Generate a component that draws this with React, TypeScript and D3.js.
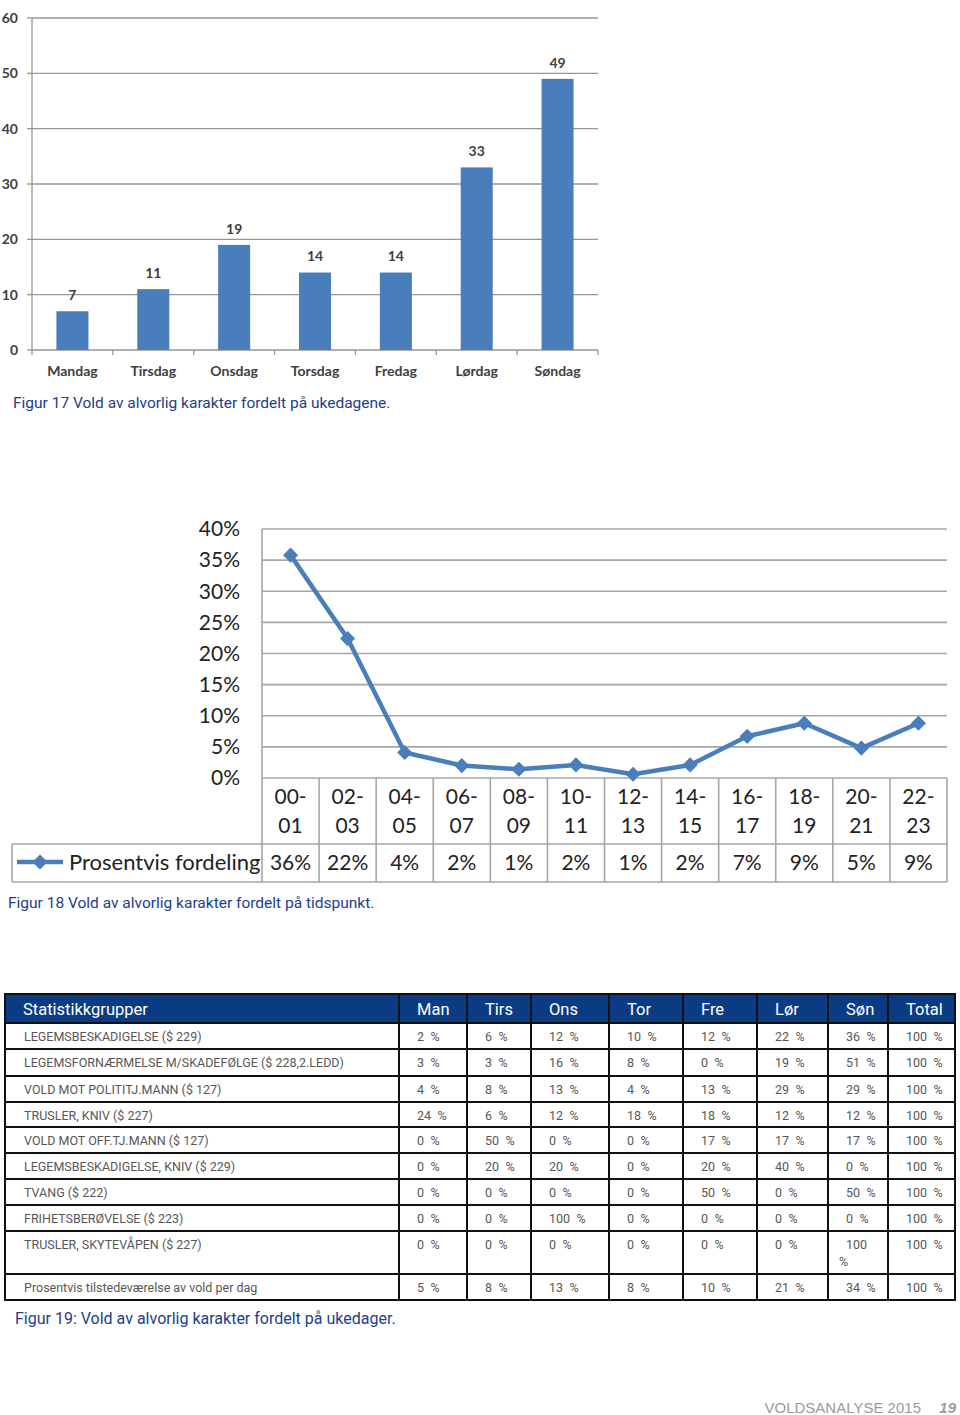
import React from "react";
import * as d3 from "d3";

// ---------- Data ----------
const days = ["Mandag", "Tirsdag", "Onsdag", "Torsdag", "Fredag", "Lørdag", "Søndag"];
const dayCounts = [7, 11, 19, 14, 14, 33, 49];
const countTicks = [0, 10, 20, 30, 40, 50, 60];

const slotStarts = ["00-", "02-", "04-", "06-", "08-", "10-", "12-", "14-", "16-", "18-", "20-", "22-"];
const slotEnds = ["01", "03", "05", "07", "09", "11", "13", "15", "17", "19", "21", "23"];
const slotShares = [35.8, 22.4, 4.1, 2.0, 1.4, 2.1, 0.6, 2.1, 6.7, 8.8, 4.8, 8.8];
const shareTicks = [0, 5, 10, 15, 20, 25, 30, 35, 40];

const tableHeaders = ["Statistikkgrupper", "Man", "Tirs", "Ons", "Tor", "Fre", "Lør", "Søn", "Total"];
const groupNames = [
  "LEGEMSBESKADIGELSE ($ 229)",
  "LEGEMSFORNÆRMELSE M/SKADEFØLGE ($ 228,2.LEDD)",
  "VOLD MOT POLITITJ.MANN ($ 127)",
  "TRUSLER, KNIV ($ 227)",
  "VOLD MOT OFF.TJ.MANN ($ 127)",
  "LEGEMSBESKADIGELSE, KNIV ($ 229)",
  "TVANG ($ 222)",
  "FRIHETSBERØVELSE ($ 223)",
  "TRUSLER, SKYTEVÅPEN ($ 227)",
  "Prosentvis tilstedeværelse av vold per dag",
];
const shareLegemsbeskadigelse = [2, 6, 12, 10, 12, 22, 36, 100];
const shareLegemsfornaermelse = [3, 3, 16, 8, 0, 19, 51, 100];
const shareVoldPoliti = [4, 8, 13, 4, 13, 29, 29, 100];
const shareTruslerKniv = [24, 6, 12, 18, 18, 12, 12, 100];
const shareVoldOff = [0, 50, 0, 0, 17, 17, 17, 100];
const shareLegemsKniv = [0, 20, 20, 0, 20, 40, 0, 100];
const shareTvang = [0, 0, 0, 0, 50, 0, 50, 100];
const shareFrihet = [0, 0, 100, 0, 0, 0, 0, 100];
const shareSkytevapen = [0, 0, 0, 0, 0, 0, 100, 100];
const shareDaily = [5, 8, 13, 8, 10, 21, 34, 100];
const groupShares = [
  shareLegemsbeskadigelse, shareLegemsfornaermelse, shareVoldPoliti, shareTruslerKniv,
  shareVoldOff, shareLegemsKniv, shareTvang, shareFrihet, shareSkytevapen, shareDaily,
];

// ---------- Styles ----------
const BLUE = "#4a7ebb";
const CAPTION = "#22408a";
const NAVY = "#0b3c83";
const chartFont = "Lato, 'Open Sans', sans-serif";
const dinFont = "Roboto, 'Noto Sans', sans-serif";

function BarChart() {
  const x = d3.scaleBand<string>().domain(days).range([32, 598]).paddingInner(0.604).paddingOuter(0.302);
  const y = d3.scaleLinear().domain([0, 60]).range([350, 18]);
  const step = x.step();
  const labelFill = "#404040";
  return (
    <g>
      {countTicks.map((t) => (
        <g key={t}>
          {t > 0 && <line x1={32} x2={598} y1={y(t)} y2={y(t)} stroke="#969696" strokeWidth={1.3} />}
          <line x1={27} x2={32} y1={y(t)} y2={y(t)} stroke="#969696" strokeWidth={1.3} />
          <text x={18} y={y(t)} dy="0.35em" textAnchor="end" fontFamily={chartFont} fontSize={14} fontWeight={700} fill={labelFill}>{t}</text>
        </g>
      ))}
      <line x1={32} x2={32} y1={y(60)} y2={y(0)} stroke="#969696" strokeWidth={1.3} />
      <line x1={32} x2={598} y1={y(0)} y2={y(0)} stroke="#969696" strokeWidth={1.3} />
      {d3.range(days.length + 1).map((i) => (
        <line key={i} x1={32 + i * step} x2={32 + i * step} y1={y(0)} y2={y(0) + 5} stroke="#969696" strokeWidth={1.3} />
      ))}
      {days.map((d, i) => (
        <g key={d}>
          <rect x={x(d)} y={y(dayCounts[i])} width={x.bandwidth()} height={y(0) - y(dayCounts[i])} fill={BLUE} />
          <text x={(x(d) as number) + x.bandwidth() / 2} y={y(dayCounts[i]) - 16} dy="0.35em" textAnchor="middle" fontFamily={chartFont} fontSize={14} fontWeight={700} fill={labelFill}>{dayCounts[i]}</text>
          <text x={(x(d) as number) + x.bandwidth() / 2} y={371} dy="0.35em" textAnchor="middle" fontFamily={chartFont} fontSize={14} fontWeight={700} fill={labelFill}>{d}</text>
        </g>
      ))}
    </g>
  );
}

function LineChart() {
  const slots = slotStarts.map((s, i) => s + slotEnds[i]);
  const x = d3.scaleBand<string>().domain(slots).range([262, 947]);
  const y = d3.scaleLinear().domain([0, 40]).range([778, 529]);
  const cx = (i: number) => (x(slots[i]) as number) + x.bandwidth() / 2;
  const line = d3.line<number>().x((_, i) => cx(i)).y((v) => y(v));
  const diamond = d3.symbol(d3.symbolSquare, 115)();
  const fmt = (v: number) => d3.format(".0f")(v) + "%";
  const gridC = "#a6a6a6";
  return (
    <g>
      {shareTicks.map((t) => (
        <g key={t}>
          {t > 0 && <line x1={262} x2={947} y1={y(t)} y2={y(t)} stroke={gridC} strokeWidth={1.6} />}
          <text x={240} y={y(t)} dy="0.35em" textAnchor="end" fontFamily={chartFont} fontSize={21} fill="#222">{t}%</text>
        </g>
      ))}
      {/* category table */}
      <line x1={262} x2={947} y1={778} y2={778} stroke={gridC} strokeWidth={1.6} />
      <line x1={12} x2={947} y1={844} y2={844} stroke={gridC} strokeWidth={1.6} />
      <line x1={12} x2={947} y1={882} y2={882} stroke={gridC} strokeWidth={1.6} />
      <line x1={12} x2={12} y1={844} y2={882} stroke={gridC} strokeWidth={1.6} />
      <line x1={262} x2={262} y1={529} y2={882} stroke={gridC} strokeWidth={1.6} />
      {slots.map((s) => (
        <line key={s} x1={(x(s) as number) + x.bandwidth()} x2={(x(s) as number) + x.bandwidth()} y1={778} y2={882} stroke={gridC} strokeWidth={1.6} />
      ))}
      {slots.map((s, i) => (
        <g key={s} fontFamily={chartFont} fontSize={21} fill="#222" textAnchor="middle">
          <text x={cx(i)} y={797} dy="0.35em">{slotStarts[i]}</text>
          <text x={cx(i)} y={826} dy="0.35em">{slotEnds[i]}</text>
          <text x={cx(i)} y={863} dy="0.35em">{fmt(slotShares[i])}</text>
        </g>
      ))}
      <path d={line(slotShares) as string} fill="none" stroke={BLUE} strokeWidth={4.5} strokeLinejoin="round" />
      {slotShares.map((v, i) => (
        <path key={i} d={diamond as string} transform={`translate(${cx(i)},${y(v)}) rotate(45)`} fill={BLUE} />
      ))}
      {/* legend */}
      <line x1={17} x2={63} y1={862} y2={862} stroke={BLUE} strokeWidth={4.5} />
      <path d={diamond as string} transform="translate(40,862) rotate(45)" fill={BLUE} />
      <text x={69} y={862} dy="0.35em" fontFamily={chartFont} fontSize={22} fill="#222">Prosentvis fordeling</text>
    </g>
  );
}

function Table() {
  const colX = [5, 399, 467, 531, 609, 683, 757, 828, 888, 955];
  const rowH = [29, 26, 27, 26, 25, 26, 26, 26, 26, 43, 26];
  const rowY = [994];
  rowH.forEach((h) => rowY.push(rowY[rowY.length - 1] + h));
  const top = rowY[0];
  const bottom = rowY[rowY.length - 1];
  return (
    <g>
      <rect x={colX[0]} y={top} width={colX[colX.length - 1] - colX[0]} height={rowH[0]} fill={NAVY} />
      {tableHeaders.map((h, j) => (
        <text key={h} x={j === 0 ? 23 : colX[j] + 18} y={top + rowH[0] / 2 + 1} dy="0.35em" fontFamily={dinFont} fontSize={16.5} fill="#fff">{h}</text>
      ))}
      {groupNames.map((g, r) => {
        const y0 = rowY[r + 1];
        const ty = y0 + 13.5;
        const vals = groupShares[r];
        return (
          <g key={g} fontFamily={dinFont} fontSize={12.5} fill="#575757">
            <text x={24} y={ty} dy="0.35em">{g}</text>
            {vals.map((v, j) => {
              const tx = colX[j + 1] + 18;
              if (v === 100 && j === 6) {
                return (
                  <g key={j}>
                    <text x={tx} y={ty} dy="0.35em">{v}</text>
                    <text x={tx - 7} y={ty + 17} dy="0.35em">%</text>
                  </g>
                );
              }
              return <text key={j} x={tx} y={ty} dy="0.35em">{`${v}\u2002%`}</text>;
            })}
          </g>
        );
      })}
      {rowY.slice(1, -1).map((yy, i) => (
        <line key={i} x1={colX[0]} x2={colX[colX.length - 1]} y1={yy} y2={yy} stroke="#111" strokeWidth={2} />
      ))}
      {colX.slice(1, -1).map((xx, i) => (
        <line key={i} x1={xx} x2={xx} y1={top} y2={bottom} stroke="#111" strokeWidth={2} />
      ))}
      <rect x={colX[0]} y={top} width={colX[colX.length - 1] - colX[0]} height={bottom - top} fill="none" stroke="#111" strokeWidth={2} />
    </g>
  );
}

export default function App() {
  return (
    <svg width={960} height={1415} style={{ position: "absolute", left: 0, top: 0, background: "#fff" }}>
      <rect x={0} y={0} width={960} height={1415} fill="#fff" />
      <BarChart />
      <text x={13} y={403} dy="0.35em" fontFamily={dinFont} fontSize={15.5} fill={CAPTION}>Figur 17 Vold av alvorlig karakter fordelt på ukedagene.</text>
      <LineChart />
      <text x={8} y={903} dy="0.35em" fontFamily={dinFont} fontSize={15.5} fill={CAPTION}>Figur 18 Vold av alvorlig karakter fordelt på tidspunkt.</text>
      <Table />
      <text x={15} y={1318} dy="0.35em" fontFamily={dinFont} fontSize={16} fill={CAPTION}>Figur 19: Vold av alvorlig karakter fordelt på ukedager.</text>
      <text x={921} y={1408} dy="0.35em" textAnchor="end" fontFamily="'Liberation Sans', Arial, sans-serif" fontSize={15} fill="#9a9a9a">VOLDSANALYSE 2015</text>
      <text x={956} y={1408} dy="0.35em" textAnchor="end" fontFamily="'Liberation Sans', Arial, sans-serif" fontSize={15} fontStyle="italic" fontWeight={700} fill="#9a9a9a">19</text>
    </svg>
  );
}
